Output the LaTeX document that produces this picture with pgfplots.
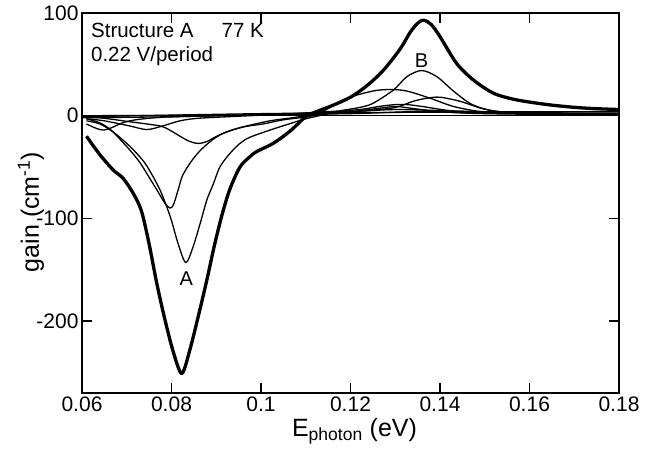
\documentclass[border=0pt]{standalone}
\usepackage{fontspec}
\setmainfont{Liberation Sans}
\usepackage{pgfplots}
\pgfplotsset{compat=1.18}
\begin{document}
\begin{tikzpicture}
\begin{axis}[name=ax, scale only axis, width=537pt, height=380pt,
  xmin=0.06, xmax=0.18, ymin=-270, ymax=100,
  xtick={0.06,0.08,0.1,0.12,0.14,0.16,0.18},
  xticklabels={0.06,0.08,0.1,0.12,0.14,0.16,0.18},
  ytick={-200,-100,0,100}, yticklabels={-200,-100,0,100},
  tick align=inside, major tick length=10pt,
  tick style={line width=1.4pt, black},
  axis line style={line width=1.7pt},
  ticklabel style={font=\fontsize{21}{25}\selectfont},
  /pgf/number format/assume math mode=true,
  xlabel={E\textsubscript{photon} (eV)},
  ylabel={gain (cm\textsuperscript{-1})},
  every axis x label/.style={at={([xshift=4pt,yshift=-43pt]axis description cs:0.5,0)},anchor=base,font=\fontsize{25}{30}\selectfont},
  every axis y label/.style={at={([xshift=-51pt,yshift=-9pt]axis description cs:0,0.5)},rotate=90,anchor=center,font=\fontsize{25}{30}\selectfont},
  every axis plot/.append style={black, smooth, tension=0.5, line join=round},
]
% thick total curve
\addplot[line width=3.3pt] coordinates {
(0.0610,-20) (0.0640,-38) (0.0670,-53) (0.0692,-61) (0.0715,-76) (0.0733,-93)
(0.0750,-125) (0.0767,-163) (0.0785,-198) (0.0804,-230) (0.0823,-251) (0.0841,-228)
(0.0860,-195) (0.0879,-160) (0.0895,-128) (0.0912,-98) (0.0930,-72) (0.0953,-50)
(0.0975,-40) (0.0990,-35) (0.1027,-27) (0.1065,-15) (0.1100,-1) (0.1130,5)
(0.1160,10) (0.1200,18) (0.1236,29) (0.1273,44) (0.1311,65) (0.1333,81)
(0.1350,90) (0.1363,93) (0.1380,89) (0.1400,77) (0.1437,51) (0.1474,35)
(0.1519,22) (0.1570,15.5) (0.1646,10.5) (0.1720,7.5) (0.1800,6)};
% curve A / B
\addplot[line width=1.3pt] coordinates {
(0.061,-5) (0.064,-8) (0.067,-16) (0.070,-27) (0.0725,-38) (0.0745,-49)
(0.0774,-72) (0.0797,-98) (0.0815,-125) (0.0832,-143) (0.0848,-128) (0.0864,-105)
(0.0879,-82) (0.0893,-67) (0.0908,-50) (0.093,-37) (0.0953,-27) (0.0975,-21)
(0.1027,-13) (0.107,-7) (0.110,-3) (0.114,1) (0.118,5) (0.122,8) (0.125,12)
(0.1296,25) (0.1326,38) (0.1359,44) (0.1393,38) (0.143,24) (0.1467,12)
(0.1504,6) (0.155,3.5) (0.165,2.5) (0.18,1.5)};
% curve with min -90
\addplot[line width=1.3pt] coordinates {
(0.061,-3) (0.064,-7) (0.0665,-14) (0.0685,-23) (0.071,-35) (0.073,-46)
(0.0750,-60) (0.0767,-72) (0.0785,-85) (0.0797,-90) (0.0805,-86) (0.0815,-72)
(0.0825,-58) (0.0845,-44) (0.0864,-34) (0.089,-24) (0.0916,-17) (0.096,-11)
(0.1005,-8) (0.105,-4) (0.1116,0) (0.115,7) (0.1192,17) (0.125,24) (0.1288,25.5)
(0.1326,24) (0.1378,17) (0.143,9) (0.149,4) (0.155,2.5) (0.165,2) (0.18,1)};
% curve with min -27
\addplot[line width=1.3pt] coordinates {
(0.061,-1) (0.065,-2.5) (0.070,-5.5) (0.0774,-10) (0.080,-15) (0.0819,-20)
(0.0840,-25) (0.0860,-27) (0.0880,-25) (0.0901,-20) (0.0935,-14) (0.0968,-10)
(0.102,-5) (0.107,-2) (0.112,1) (0.118,3) (0.124,5) (0.130,8) (0.134,14)
(0.137,17) (0.140,18) (0.1445,14) (0.149,7.5) (0.153,4) (0.16,2.5) (0.18,1.5)};
% small curve, min near 0.065
\addplot[line width=1.3pt] coordinates {
(0.061,-8) (0.063,-12) (0.0648,-14) (0.067,-11) (0.069,-7) (0.072,-4)
(0.078,-1.5) (0.09,0) (0.1,1) (0.11,2) (0.12,4) (0.126,7) (0.130,9)
(0.134,7) (0.14,4) (0.15,2) (0.18,0.5)};
% small curve, min near 0.075
\addplot[line width=1.3pt] coordinates {
(0.061,-3) (0.065,-5) (0.0707,-10) (0.0745,-13.5) (0.078,-10) (0.0819,-5)
(0.086,-2.5) (0.095,-0.5) (0.105,1.5) (0.115,4) (0.122,6) (0.128,10)
(0.132,11) (0.136,9) (0.142,5) (0.15,2.5) (0.18,1)};
% near-zero curves
\addplot[line width=1.3pt] coordinates {
(0.06,0) (0.09,0.5) (0.12,2) (0.135,4) (0.15,2.5) (0.18,1.5)};
\addplot[line width=1.3pt] coordinates {
(0.06,-2) (0.08,-1) (0.10,1) (0.12,4) (0.13,6) (0.14,5) (0.16,3) (0.18,2.5)};
\addplot[line width=1.3pt] coordinates {
(0.06,0) (0.10,0) (0.14,0) (0.18,0)};
\addplot[line width=1.3pt] coordinates {
(0.06,-1) (0.10,2) (0.14,3.5) (0.18,4)};
% annotations
\node[anchor=base west, inner sep=0pt, font=\fontsize{20.5}{24}\selectfont] at (axis cs:0.0620,76) {Structure A\hspace{28pt}77 K};
\node[anchor=base west, inner sep=0pt, font=\fontsize{20.5}{24}\selectfont] at (axis cs:0.0620,52.5) {0.22 V/period};
\node[anchor=base, inner sep=0pt, font=\fontsize{20}{24}\selectfont] at (axis cs:0.0833,-165) {A};
\node[anchor=base, inner sep=0pt, font=\fontsize{20}{24}\selectfont] at (axis cs:0.1359,46.5) {B};
\end{axis}
\pgfresetboundingbox
\path[use as bounding box] ([xshift=-82pt,yshift=-62pt]ax.south west) rectangle ([xshift=28pt,yshift=13pt]ax.north east);
\end{tikzpicture}
\end{document}
